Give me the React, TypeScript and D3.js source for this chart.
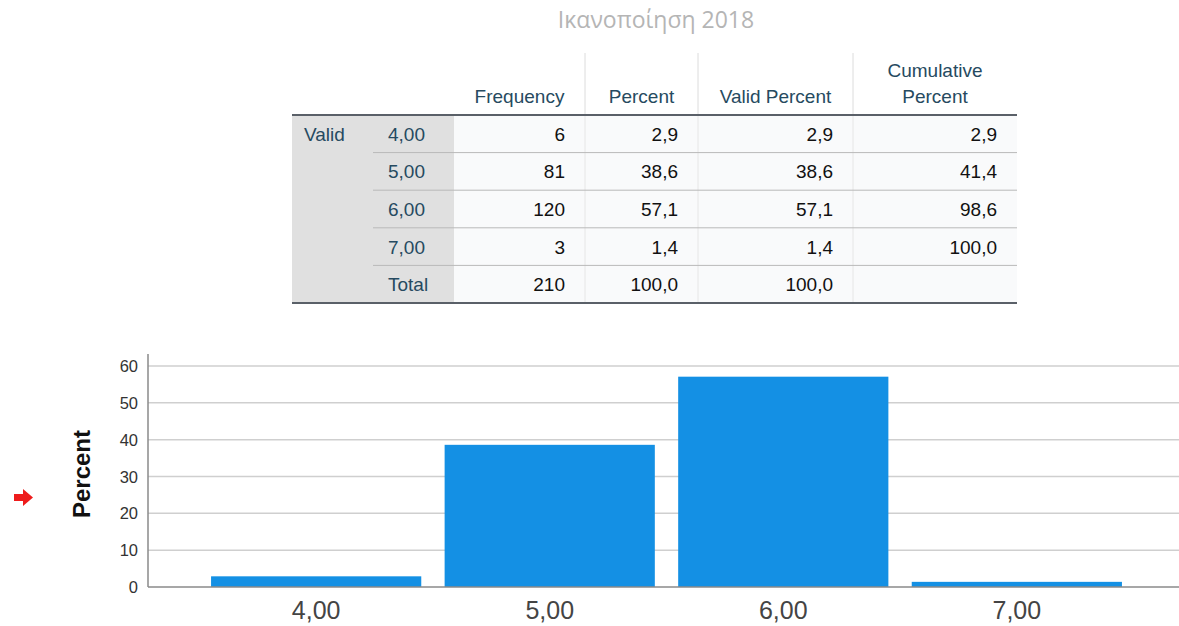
import React from "react";
import * as d3 from "d3";

const title = "Ικανοποίηση 2018";
const categories = ["4,00", "5,00", "6,00", "7,00"];
const frequency = [6, 81, 120, 3];
const percent = [2.9, 38.6, 57.1, 1.4];
const validPercent = [2.9, 38.6, 57.1, 1.4];
const cumulativePercent = [2.9, 41.4, 98.6, 100.0];
const totalLabel = "Total";
const totalFrequency = 210;
const totalPercent = 100.0;
const totalValidPercent = 100.0;
const groupLabel = "Valid";
const headers = [["Frequency"], ["Percent"], ["Valid Percent"], ["Cumulative", "Percent"]];
const yTicks = [0, 10, 20, 30, 40, 50, 60];
const yTitle = "Percent";

const locale = d3.formatLocale({ decimal: ",", thousands: ".", grouping: [3], currency: ["", "€"] });
const f1 = locale.format(".1f");

const W = 1179;
const H = 626;

export default function App() {
  // ---- table layout ----
  const tLeft = 292, tRight = 1017, tTop = 115, rowH = 37.6;
  const labelColX = 373, grayRight = 454;
  const colEdges = [454, 585, 698, 853, 1017];
  const rows = categories.map((c, i) => ({
    label: c,
    vals: [String(frequency[i]), f1(percent[i]), f1(validPercent[i]), f1(cumulativePercent[i])],
  }));
  rows.push({
    label: totalLabel,
    vals: [String(totalFrequency), f1(totalPercent), f1(totalValidPercent), ""],
  });
  const tBottom = tTop + rowH * rows.length;
  const headColor = "#264a60";
  const tableFont = "'Liberation Sans', Arial, sans-serif";
  const fs = 19;

  // ---- chart layout ----
  const x = d3.scaleBand<string>().domain(categories).range([148, 1185]).paddingInner(0.1).paddingOuter(0.27);
  const y = d3.scaleLinear().domain([0, 60]).range([587, 366]);
  const axisX = 148;

  return (
    <svg width={W} height={H} style={{ position: "absolute", left: 0, top: 0, background: "#fff" }}
      fontFamily="'Liberation Sans', Arial, sans-serif">
      {/* title */}
      <text x={656} y={28} textAnchor="middle" fontSize={23} fill="#b5b5b5" fontFamily="'Open Sans', 'Noto Sans', sans-serif">{title}</text>

      {/* table backgrounds */}
      <rect x={tLeft} y={tTop} width={grayRight - tLeft} height={tBottom - tTop} fill="#e0e0e0" />
      <rect x={grayRight} y={tTop} width={tRight - grayRight} height={tBottom - tTop} fill="#f9fafb" />

      {/* header vertical separators */}
      {colEdges.slice(1, -1).map((cx) => (
        <line key={"hv" + cx} x1={cx} x2={cx} y1={53} y2={tTop} stroke="#dcdcdc" strokeWidth={1} />
      ))}
      {/* body vertical separators */}
      {colEdges.slice(1, -1).map((cx) => (
        <line key={"bv" + cx} x1={cx} x2={cx} y1={tTop} y2={tBottom} stroke="#e6e6e6" strokeWidth={1} />
      ))}
      {/* row separators */}
      {rows.slice(0, -1).map((_, i) => (
        <line key={"rs" + i} x1={labelColX} x2={tRight} y1={tTop + rowH * (i + 1)} y2={tTop + rowH * (i + 1)} stroke="#b9b9b9" strokeWidth={1} />
      ))}
      {/* top/bottom rules */}
      <line x1={tLeft} x2={tRight} y1={tTop} y2={tTop} stroke="#5a6068" strokeWidth={2} />
      <line x1={tLeft} x2={tRight} y1={tBottom} y2={tBottom} stroke="#5a6068" strokeWidth={2} />

      {/* headers */}
      {headers.map((lines, i) => {
        const cx = (colEdges[i] + colEdges[i + 1]) / 2;
        return lines.map((ln, j) => (
          <text key={"h" + i + j} x={cx} y={103 - (lines.length - 1 - j) * 26} textAnchor="middle"
            fontSize={fs} fill={headColor} fontFamily={tableFont}>{ln}</text>
        ));
      })}

      {/* group label */}
      <text x={304} y={tTop + rowH / 2 + 7} fontSize={fs} fill={headColor} fontFamily={tableFont}>{groupLabel}</text>

      {/* rows */}
      {rows.map((r, i) => {
        const cy = tTop + rowH * i + rowH / 2 + 7;
        return (
          <g key={"r" + i}>
            <text x={388} y={cy} fontSize={fs} fill={headColor} fontFamily={tableFont}>{r.label}</text>
            {r.vals.map((v, j) => (
              <text key={j} x={colEdges[j + 1] - 20} y={cy} textAnchor="end" fontSize={fs} fill="#111" fontFamily={tableFont}>{v}</text>
            ))}
          </g>
        );
      })}

      {/* chart gridlines */}
      {yTicks.filter((t) => t > 0).map((t) => (
        <line key={"g" + t} x1={axisX} x2={W} y1={y(t)} y2={y(t)} stroke="#cfcfcf" strokeWidth={1.5} />
      ))}

      {/* bars */}
      {categories.map((c, i) => (
        <rect key={"b" + c} x={x(c)} y={y(percent[i])} width={x.bandwidth()} height={y(0) - y(percent[i])} fill="#1490e4" />
      ))}

      {/* axes */}
      <line x1={axisX} x2={axisX} y1={354} y2={y(0)} stroke="#8a8a8a" strokeWidth={1.5} />
      <line x1={axisX} x2={W} y1={y(0)} y2={y(0)} stroke="#8a8a8a" strokeWidth={1.5} />

      {/* y tick labels */}
      {yTicks.map((t) => (
        <text key={"yt" + t} x={138} y={y(t) + 6} textAnchor="end" fontSize={16.5} fill="#333">{t}</text>
      ))}

      {/* y title */}
      <text transform={`translate(90,474) rotate(-90)`} textAnchor="middle" fontSize={24} fontWeight="bold" fill="#111">{yTitle}</text>

      {/* x tick labels */}
      {categories.map((c) => (
        <text key={"xt" + c} x={(x(c) as number) + x.bandwidth() / 2} y={619} textAnchor="middle" fontSize={25} fill="#444">{c}</text>
      ))}

      {/* red arrow marker */}
      <path d="M14,494 L23,494 L23,489 L33,497.5 L23,506 L23,501 L14,501 Z" fill="#ee1c1c" />
    </svg>
  );
}
